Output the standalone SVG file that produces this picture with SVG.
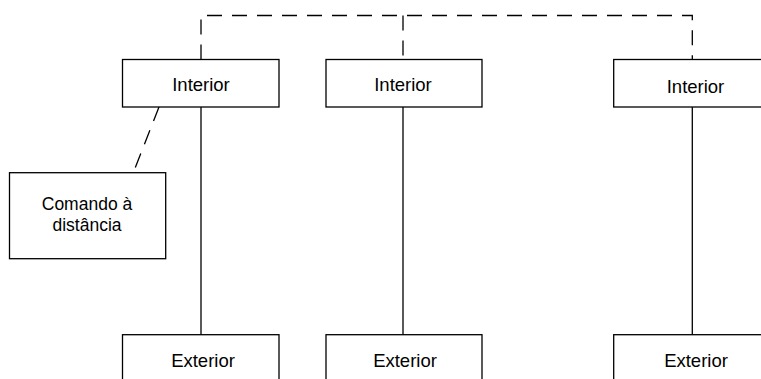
<svg xmlns="http://www.w3.org/2000/svg" width="761" height="379" viewBox="0 0 761 379">
  <style>
    .box { fill: #fff; stroke: #000; stroke-width: 1.3; }
    .lbl { font-family: "Liberation Sans", Arial, sans-serif; font-size: 18.5px; fill: #000; text-anchor: middle; }
    .sm { font-size: 17.5px; }
    .solid { fill: none; stroke: #000; stroke-width: 1.3; }
    .dash { fill: none; stroke: #000; stroke-width: 1.3; stroke-dasharray: 15 10; }
  </style>
  <rect width="761" height="379" fill="#fff"/>
  <g id="connectors">
    <path class="dash" d="M201 59.5 V15.5 H692.3 V59.5"/>
    <path class="dash" d="M403 15.5 V59.5"/>
    <path class="dash" d="M159 107 L133.3 172.7"/>
    <path class="solid" d="M201 107 V334.7"/>
    <path class="solid" d="M403 107 V334.7"/>
    <path class="solid" d="M692.3 107 V334.7"/>
  </g>
  <g id="interior-1">
    <rect class="box" x="122.5" y="59.5" width="156.5" height="47.5"/>
    <text class="lbl" x="201" y="90.5">Interior</text>
  </g>
  <g id="interior-2">
    <rect class="box" x="326" y="59.5" width="156" height="47.5"/>
    <text class="lbl" x="403" y="90.5">Interior</text>
  </g>
  <g id="interior-3">
    <rect class="box" x="613.7" y="59.5" width="156" height="47.5"/>
    <text class="lbl" x="695.5" y="92.5">Interior</text>
  </g>
  <g id="remote">
    <rect class="box" x="9.5" y="172.7" width="156.2" height="86"/>
    <text class="lbl sm" x="87" y="210">Comando à</text>
    <text class="lbl sm" x="87" y="230.5">distância</text>
  </g>
  <g id="exterior-1">
    <rect class="box" x="122.5" y="334.7" width="156.5" height="60"/>
    <text class="lbl" x="203" y="366.7">Exterior</text>
  </g>
  <g id="exterior-2">
    <rect class="box" x="326" y="334.7" width="156" height="60"/>
    <text class="lbl" x="405" y="366.7">Exterior</text>
  </g>
  <g id="exterior-3">
    <rect class="box" x="613.7" y="334.7" width="156" height="60"/>
    <text class="lbl" x="696" y="366.7">Exterior</text>
  </g>
</svg>
